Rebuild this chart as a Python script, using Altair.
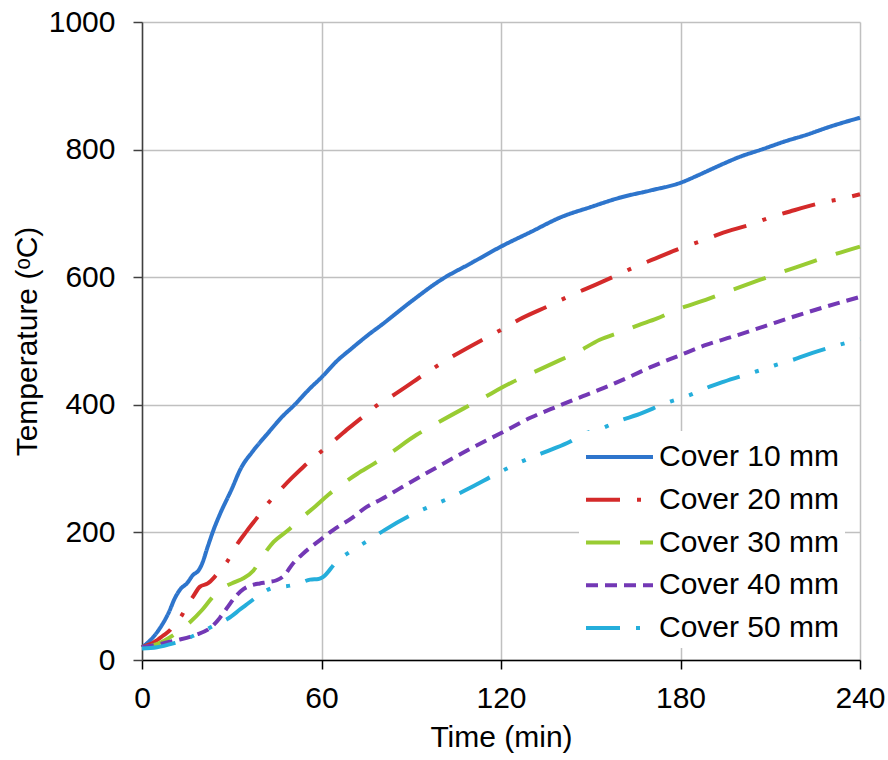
import altair as alt
import pandas as pd

# ---- data ----
names = ["Cover 10 mm", "Cover 20 mm", "Cover 30 mm", "Cover 40 mm", "Cover 50 mm"]

t10 = [0, 3, 6, 9, 11, 13, 15, 17, 19, 20, 22, 24, 26, 30, 33, 37, 42, 47, 51, 56, 60, 65, 70, 76, 80,
       90, 100, 110, 120, 130, 140, 150, 160, 170, 180, 186, 193, 200, 207, 215, 222, 230, 240]
T10 = [20, 32, 50, 75, 97, 112, 120, 133, 141, 150, 178, 205, 228, 268, 300, 327, 355, 382, 400, 425, 443,
       468, 488, 511, 525, 562, 596, 622, 648, 671, 694, 710, 725, 736, 748, 760, 775, 789, 800, 813, 823, 836, 850]

t20 = [0, 4, 7, 9.4, 11, 13.3, 15, 17, 19.4, 22, 24.4, 26, 28.3, 31.6, 35, 38.3, 42.2, 46.7, 50, 54, 59.7,
       64.5, 69, 73.8, 78.5, 84, 93.5, 99, 104.6, 114.6, 120.2, 125.8, 136.4, 142.2, 148, 153, 158.7, 164.2,
       170.4, 181, 187.1, 193.2, 204.3, 210.2, 216.6, 227.5, 233.9, 240]
T20 = [20, 28, 38, 47, 57, 70, 85, 99, 115, 120, 131, 140, 153, 180, 202, 222, 246, 269, 285, 303, 326,
       345, 363, 381, 399, 415, 445, 462, 478, 504, 518, 533, 556, 569, 581, 591, 603, 615,
       627, 647, 657, 668, 684, 694, 703, 717, 723, 730]

t30 = [0, 5, 10.5, 15.5, 20, 23.3, 25.5, 27.7, 31, 33.9, 37.2, 40.5, 44, 49, 53.9, 58, 62.3, 67.3, 72, 77.3,
       82.3, 91.8, 97.4, 107.4, 113, 123.6, 129.1, 139.7, 145.3, 153, 160, 166, 172, 178.2, 189.3, 194.9,
       206, 212.1, 222.7, 228.9, 240]
T30 = [20, 25, 39, 57, 78, 97, 108, 115, 122, 128, 140, 164, 185, 204, 225, 241, 259, 277, 292, 307,
       322, 353, 368, 394, 408, 435, 447, 470, 482, 502, 514, 525, 535, 548, 566, 576,
       595, 605, 622, 632, 648]

t40 = [0, 6, 11.6, 17.7, 23.3, 26, 28.8, 31, 33.9, 36.5, 39.4, 42, 45, 47.2, 50.6, 53.9, 59.5, 64, 70, 75.1,
       80, 86.2, 97.4, 108.5, 119.7, 130, 138.6, 146, 154.2, 163, 170, 179.5, 188, 197.6, 208, 217.7, 228, 240]
T40 = [20, 25, 31, 39, 52, 66, 84, 98, 111, 117, 120, 122, 125, 131, 152, 167, 188, 204, 222, 240,
       252, 269, 299, 328, 355, 380, 397, 411, 426, 444, 459, 477, 493, 507, 523, 538, 553, 569]

t50 = [0, 5, 10.5, 14, 17.2, 20, 23.3, 26, 28.8, 33, 37.8, 40.5, 43.6, 47, 50, 53, 56.2, 59, 60.5, 65,
       70.3, 75.9, 81.2, 91.6, 97.4, 103.3, 108.9, 119.4, 125, 131, 137, 143, 147.5, 153.6, 159.6, 165.4,
       176.5, 182.4, 188.4, 194.3, 205.8, 211.6, 217.9, 223.9, 235.3, 240]
T50 = [18, 20, 26, 31, 38, 44, 52, 58, 65, 80, 97, 106, 113, 115, 117, 121, 126, 127, 130, 154,
       172, 188, 204, 231, 243, 255, 268, 294, 307, 319, 330, 342, 354, 363, 375, 384,
       405, 414, 426, 436, 453, 462, 471, 481, 497, 503]

x_ticks = [0, 60, 120, 180, 240]
y_ticks = [0, 200, 400, 600, 800, 1000]

colors = ["#2E75CC", "#D42A2A", "#99CC33", "#7338B5", "#25AEDB"]
dashes = [[1, 0], [34, 17, 4, 17], [34, 20], [12, 7], [34, 16, 4, 16, 4, 16]]

rows = []
for name, ts, Ts in zip(names, [t10, t20, t30, t40, t50], [T10, T20, T30, T40, T50]):
    for i, (a, b) in enumerate(zip(ts, Ts)):
        rows.append({"series": name, "time": a, "temp": b, "order": i})
df = pd.DataFrame(rows)

FONT = "Liberation Sans"
FS = 30

legend = alt.Legend(
    title=None,
    orient="none",
    legendX=437,
    legendY=409,
    fillColor="white",
    padding=5,
    symbolType="M-1,0H2.526",
    symbolSize=1444,
    symbolStrokeWidth=4,
    labelOffset=33,
    labelFontSize=FS,
    labelFont=FONT,
    labelColor="black",
    labelLimit=0,
    rowPadding=6.75,
)

chart = (
    alt.Chart(df)
    .mark_line(strokeWidth=4, interpolate="monotone")
    .encode(
        x=alt.X(
            "time:Q",
            scale=alt.Scale(domain=[0, 240], nice=False),
            axis=alt.Axis(
                values=x_ticks,
                title="Time (min)",
                grid=True,
                domainColor="black",
                tickColor="black",
                labelPadding=14,
                titlePadding=9,
                labelFlush=False,
                format="d",
            ),
        ),
        y=alt.Y(
            "temp:Q",
            scale=alt.Scale(domain=[0, 1000], nice=False),
            axis=alt.Axis(
                values=y_ticks,
                title="Temperature (ᵒC)",
                grid=True,
                domainColor="#404040",
                tickColor="#404040",
                labelPadding=18,
                titlePadding=6,
                labelFlush=False,
                format="d",
            ),
        ),
        color=alt.Color(
            "series:N",
            scale=alt.Scale(domain=names, range=colors),
            legend=legend,
        ),
        strokeDash=alt.StrokeDash(
            "series:N",
            scale=alt.Scale(domain=names, range=dashes),
            legend=legend,
        ),
        order="order:Q",
    )
    .properties(
        width=718,
        height=638,
        autosize="none",
        padding={"left": 142, "top": 22, "right": 28, "bottom": 100},
    )
    .configure_view(stroke=None)
    .configure_axis(
        labelFont=FONT,
        labelFontSize=FS,
        labelColor="black",
        titleFont=FONT,
        titleFontSize=FS,
        titleFontWeight="normal",
        titleColor="black",
        gridColor="#c0c0c0",
        gridWidth=1.5,
        domainWidth=1.5,
        tickSize=9,
        tickWidth=1.5,
    )
)

chart.save("out.html", embed_options={"renderer": "svg", "actions": False})
